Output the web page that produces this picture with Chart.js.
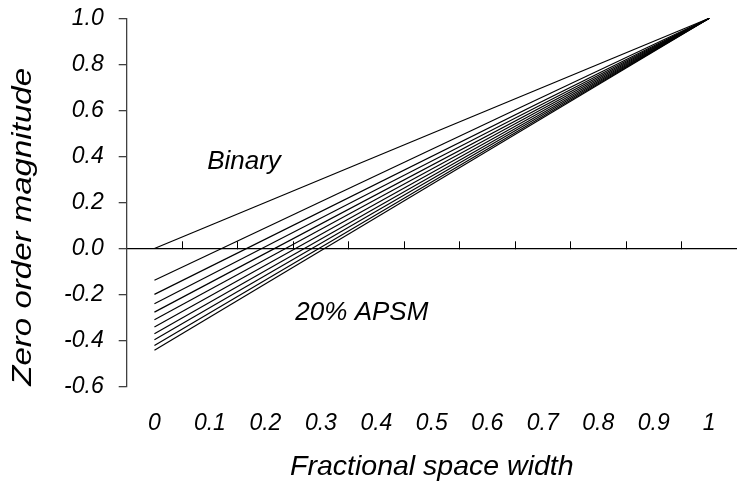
<!DOCTYPE html>
<html>
<head>
<meta charset="utf-8">
<script src="https://cdn.jsdelivr.net/npm/chart.js@4/dist/chart.umd.min.js"></script>
<style>
  html, body { margin: 0; padding: 0; background: #fff; }
  #wrap { width: 737px; height: 488px; }
</style>
</head>
<body>
<div id="wrap"><canvas id="c" width="737" height="488"></canvas></div>
<script>
// ---- data ----
const seriesNames = ['Binary', 'APSM 2%', 'APSM 4%', 'APSM 6%', 'APSM 8%', 'APSM 10%', 'APSM 12%', 'APSM 14%', 'APSM 16%', 'APSM 18%', 'APSM 20%'];
const startX = 0;
const endX = 1;
const startValues = [0, -0.138, -0.199, -0.240, -0.276, -0.309, -0.341, -0.370, -0.396, -0.421, -0.442];
const endValues = [1, 1, 1, 1, 1, 1, 1, 1, 1, 1, 1];
const xTickValues = [0, 0.1, 0.2, 0.3, 0.4, 0.5, 0.6, 0.7, 0.8, 0.9, 1];
const xTickLabels = ['0', '0.1', '0.2', '0.3', '0.4', '0.5', '0.6', '0.7', '0.8', '0.9', '1'];
const xTickMarks = [0.05, 0.15, 0.25, 0.35, 0.45, 0.55, 0.65, 0.75, 0.85, 0.95];
const yTickValues = [-0.6, -0.4, -0.2, 0, 0.2, 0.4, 0.6, 0.8, 1.0];
const yTickLabels = ['-0.6', '-0.4', '-0.2', '0.0', '0.2', '0.4', '0.6', '0.8', '1.0'];
const annotationTexts = ['Binary', '20% APSM'];
const annotationX = [0.095, 0.254];
const annotationY = [0.378, -0.279];
const xTitle = 'Fractional space width';
const yTitle = 'Zero order magnitude';

const FONT = '"Liberation Sans", Arial, sans-serif';

const datasets = seriesNames.map((name, i) => ({
  label: name,
  data: [{x: startX, y: startValues[i]}, {x: endX, y: endValues[i]}],
  borderColor: '#000',
  borderWidth: 1.2,
  pointRadius: 0,
  fill: false,
  tension: 0,
  xAxisID: 'x',
  yAxisID: 'y'
}));

const textPlugin = {
  id: 'texts',
  afterDatasetsDraw(chart) {
    const ctx = chart.ctx;
    const xs = chart.scales.x, ys = chart.scales.y;
    ctx.save();
    ctx.fillStyle = '#000';
    ctx.font = 'italic 26px ' + FONT;
    ctx.textAlign = 'left';
    ctx.textBaseline = 'middle';
    annotationTexts.forEach((t, i) => {
      ctx.fillText(t, xs.getPixelForValue(annotationX[i]), ys.getPixelForValue(annotationY[i]));
    });
    ctx.restore();
    // y axis title (stretched along its baseline like the original)
    ctx.save();
    ctx.fillStyle = '#000';
    ctx.font = 'italic 28px ' + FONT;
    ctx.textAlign = 'left';
    ctx.textBaseline = 'middle';
    ctx.translate(23, chart.chartArea.bottom - 1);
    ctx.rotate(-Math.PI / 2);
    ctx.scale(1.18, 1);
    ctx.fillText(yTitle, 0, 0);
    ctx.restore();
  }
};

new Chart(document.getElementById('c'), {
  type: 'line',
  data: { datasets },
  options: {
    responsive: false,
    animation: false,
    devicePixelRatio: 1,
    layout: { padding: { top: 18.3, right: 0, left: 0, bottom: 0 } },
    plugins: { legend: { display: false }, tooltip: { enabled: false } },
    scales: {
      x: {
        type: 'linear',
        position: 'bottom',
        min: -0.05,
        max: 1.05,
        afterBuildTicks: (s) => { s.ticks = xTickValues.map(v => ({value: v})); },
        afterFit: (s) => { s.height = 101.3; s.paddingLeft = 0; s.paddingRight = 0; },
        grid: { display: false },
        border: { display: false },
        ticks: {
          color: '#000',
          font: { family: FONT, size: 23, style: 'italic' },
          padding: 15,
          maxRotation: 0,
          autoSkip: false,
          callback: (v, i) => xTickLabels[i]
        },
        title: {
          display: true,
          text: xTitle,
          color: '#000',
          font: { family: FONT, size: 28.5, style: 'italic' },
          padding: { top: 0, bottom: 4 }
        }
      },
      x2: {
        type: 'linear',
        axis: 'x',
        position: { y: 0 },
        min: -0.05,
        max: 1.05,
        afterBuildTicks: (s) => { s.ticks = xTickMarks.map(v => ({value: v})); },
        grid: { drawOnChartArea: false, drawTicks: true, tickLength: -8, color: '#000', lineWidth: 1 },
        border: { display: true, color: '#000', width: 1.3 },
        ticks: { display: false }
      },
      y: {
        type: 'linear',
        position: 'left',
        min: -0.6,
        max: 1.0,
        afterBuildTicks: (s) => { s.ticks = yTickValues.map(v => ({value: v})); },
        afterFit: (s) => { s.width = 126.7; s.paddingTop = 0; s.paddingBottom = 0; },
        grid: { drawOnChartArea: false, drawTicks: true, tickLength: 8, color: '#404040', lineWidth: 1.3 },
        border: { display: true, color: '#404040', width: 1.3 },
        ticks: {
          color: '#000',
          font: { family: FONT, size: 23, style: 'italic' },
          padding: 15,
          autoSkip: false,
          callback: (v, i) => yTickLabels[i]
        },
        title: { display: false }
      }
    }
  },
  plugins: [textPlugin]
});
</script>
</body>
</html>
